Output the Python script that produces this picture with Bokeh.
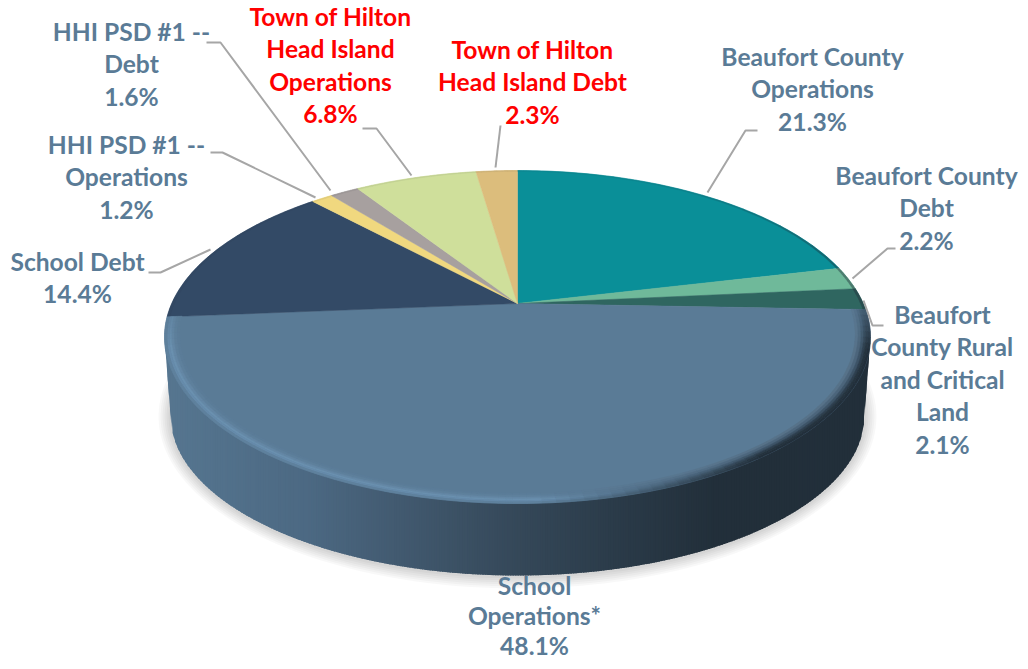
import numpy as np
from bokeh.plotting import figure
from bokeh.embed import file_html
from bokeh.resources import INLINE
from bokeh.core.properties import value

categories = ["Beaufort County Operations", "Beaufort County Debt", "Beaufort County Rural and Critical Land",
              "School Operations*", "School Debt", "HHI PSD #1 -- Operations", "HHI PSD #1 -- Debt",
              "Town of Hilton Head Island Operations", "Town of Hilton Head Island Debt"]
shares = [21.3, 2.2, 2.1, 48.1, 14.4, 1.2, 1.6, 6.8, 2.3]
label_lines = [["Beaufort County", "Operations"], ["Beaufort County", "Debt"],
               ["Beaufort", "County Rural", "and Critical", "Land"],
               ["School", "Operations*"], ["School Debt"],
               ["HHI PSD #1 --", "Operations"], ["HHI PSD #1 --", "Debt"],
               ["Town of Hilton", "Head Island", "Operations"], ["Town of Hilton", "Head Island Debt"]]
slice_colors = ["#0a8f98", "#6fb99a", "#2f6660", "#5a7b96", "#334a66", "#f0d87f", "#a7a09f", "#cfdf9b", "#dcbd7c"]
label_colors = ["#5a7b96"] * 7 + ["#ff0000", "#ff0000"]

# layout (screen pixels)
label_x = [812, 926, 942, 534, 77, 126, 131, 330, 532]
label_y0 = [55.5, 174.5, 313.5, 585, 260.5, 143.5, 30.5, 15.5, 48.5]
label_h = [32.6, 32.6, 32.6, 30, 32.6, 32.6, 32.6, 32.6, 32.6]
leaders = [[(757, 130), (745, 130), (707, 192)], [(895, 248), (887, 248), (852, 278)],
           [(883, 325), (872, 325), (863, 300)], [], [(148, 272), (160, 272), (210, 249)],
           [(210, 152), (222, 152), (315, 197)], [(206, 42), (220, 42), (330, 190)],
           [(362, 128), (376, 128), (411, 175)], [(500, 125), (495, 167)]]
AX, AY = 517, 303          # apex of the pie
TOP, BOTTOM = 133, 200     # apex to far / near rim
WIDE = 353
CY = 337
K = (BOTTOM - TOP) / (BOTTOM + TOP)
B = TOP * (1 + K)
A = WIDE * np.sqrt(1 - K ** 2)
RY = (TOP + BOTTOM) / 2
W_CY, W_RX, W_RY = 415, 347, 160   # lower edge of the wall


def face(th, r):
    u, v = r * np.sin(th), r * np.cos(th)
    d = 1 + K * v
    return AX + A * u / d, AY - B * v / d


def ring(t0, t1, r0, r1, n=3):
    th = np.linspace(t0, t1, n)
    x1, y1 = face(th, r1)
    x0, y0 = face(th[::-1], r0)
    return list(np.r_[x1, x0]), list(np.r_[y1, y0])


def sector(t0, t1, r=1.0):
    th = np.linspace(t0, t1, 80)
    x, y = face(th, r)
    return [AX] + list(x), [AY] + list(y)


def rgb(h):
    return np.array([int(h[i:i + 2], 16) for i in (1, 3, 5)], float)


def mix(a, b, t):
    c = rgb(a) * (1 - t) + rgb(b) * t
    return "#%02x%02x%02x" % tuple(int(round(i)) for i in c)


def ramp(stops, t):
    xs = [s[0] for s in stops]
    arr = np.array([rgb(s[1]) for s in stops])
    c = [np.interp(t, xs, arr[:, i]) for i in range(3)]
    return "#%02x%02x%02x" % tuple(int(round(i)) for i in c)


p = figure(width=1020, height=661, x_range=(0, 1020), y_range=(661, 0), output_backend="svg",
           toolbar_location=None, min_border=0, outline_line_color=None, background_fill_color="white",
           border_fill_color="white")
p.xaxis.visible = False
p.yaxis.visible = False
p.grid.visible = False

# soft shadow
for k in range(12, 0, -2):
    th = np.linspace(0, 2 * np.pi, 200)
    p.patch(AX + (W_RX + k) * np.cos(th), W_CY + 1 + (W_RY + k) * np.sin(th),
            fill_color="#000000", fill_alpha=0.028, line_color=None)

# side wall, in overlapping vertical strips
wall_stops = [(0, "#567690"), (0.2, "#4c6983"), (0.33, "#425a70"), (0.5, "#354859"),
              (0.65, "#2a3a48"), (0.78, "#222f3a"), (1, "#222f3a")]
edges = np.linspace(AX - WIDE + 0.5, AX + WIDE - 0.5, 281)
wx, wy, wc = [], [], []
for a, b in zip(edges[:-1], edges[1:]):
    b2 = min(b + 1.5, edges[-1])
    xs = np.array([a, b2])
    dx = np.abs(xs - AX)
    top = CY + RY * np.sqrt(np.clip(1 - (dx / WIDE) ** 2, 0, 1)) - 3
    low = W_CY + W_RY * np.sqrt(np.clip(1 - (dx / W_RX) ** 2, 0, 1))
    taper = W_CY - (dx - W_RX) / (WIDE - W_RX) * (W_CY - CY)
    low = np.where(dx > W_RX, taper, low)
    low = np.maximum(low, top)
    wx.append([a, b2, b2, a])
    wy.append([top[0], top[1], low[1], low[0]])
    wc.append(ramp(wall_stops, ((a + b) / 2 - (AX - WIDE)) / (2 * WIDE)))
p.patches(wx, wy, fill_color=wc, line_color=None)

# slices of the top face
ends = np.cumsum(shares) / 100 * 2 * np.pi
starts = np.r_[0, ends[:-1]]
fx, fy = [], []
for s, e in zip(starts, ends):
    x, y = sector(s, e)
    fx.append(x)
    fy.append(y)
p.patches(fx, fy, fill_color=slice_colors, line_color=slice_colors, line_width=0.5)

# darker thin rim on the smaller slices
rx, ry, rc = [], [], []
for s, e, col in zip(starts, ends, slice_colors):
    if col == slice_colors[3]:
        continue
    for t0, t1 in zip(np.linspace(s, e, 9)[:-1], np.linspace(s, e, 9)[1:]):
        x, y = ring(t0, t1, 0.992, 1.0)
        u = np.sin((t0 + t1) / 2)
        rx.append(x)
        ry.append(y)
        rc.append(mix(col, "#22303b", 0.08 + 0.4 * max(0, u) ** 3))
p.patches(rx, ry, fill_color=rc, line_color=rc, line_width=0.3)

# rounded edge of the largest slice
radii = np.array([0.958, 0.966, 0.974, 0.981, 0.987, 0.993, 1.0])
left_prof = ["#5b7c98", "#5e809c", "#6487a5", "#6a90af", "#668bab", "#5f819d"]
right_prof = ["#577289", "#4c657b", "#3d5366", "#2e3f4e", "#26343f", "#222f3a"]
s, e = starts[3], ends[3]
bins = np.linspace(s, e, 91)
bx, by, bc = [], [], []
for t0, t1 in zip(bins[:-1], bins[1:]):
    th = (t0 + t1) / 2
    u, v = np.sin(th), np.cos(th)
    t = np.clip((u - 0.05) / 0.55, 0, 1)
    fade = np.clip((v + 0.02) / -0.25, 0, 1)   # the edge dies out towards the back of the pie
    for i in range(6):
        x, y = ring(t0, t1, radii[i], radii[i + 1])
        bx.append(x)
        by.append(y)
        c = mix(left_prof[i], right_prof[i], t)
        bc.append(mix(slice_colors[3], c, 0.35 + 0.65 * fade))
p.patches(bx, by, fill_color=bc, line_color=bc, line_width=0.5)

# leader lines
for pts in leaders:
    if pts:
        p.line([q[0] for q in pts], [q[1] for q in pts], line_color="#a6a6a6", line_width=2)

# labels
for lines, v, x, y0, h, col in zip(label_lines, shares, label_x, label_y0, label_h, label_colors):
    txt = lines + [f"{v:.1f}%"]
    p.text([x] * len(txt), [y0 + i * h for i in range(len(txt))], text=txt,
           text_font=value("Lato"), text_font_style="bold", text_font_size="24.6px",
           text_color=col, text_align="center", text_baseline="middle")

open("out.html", "w").write(file_html(p, INLINE))
